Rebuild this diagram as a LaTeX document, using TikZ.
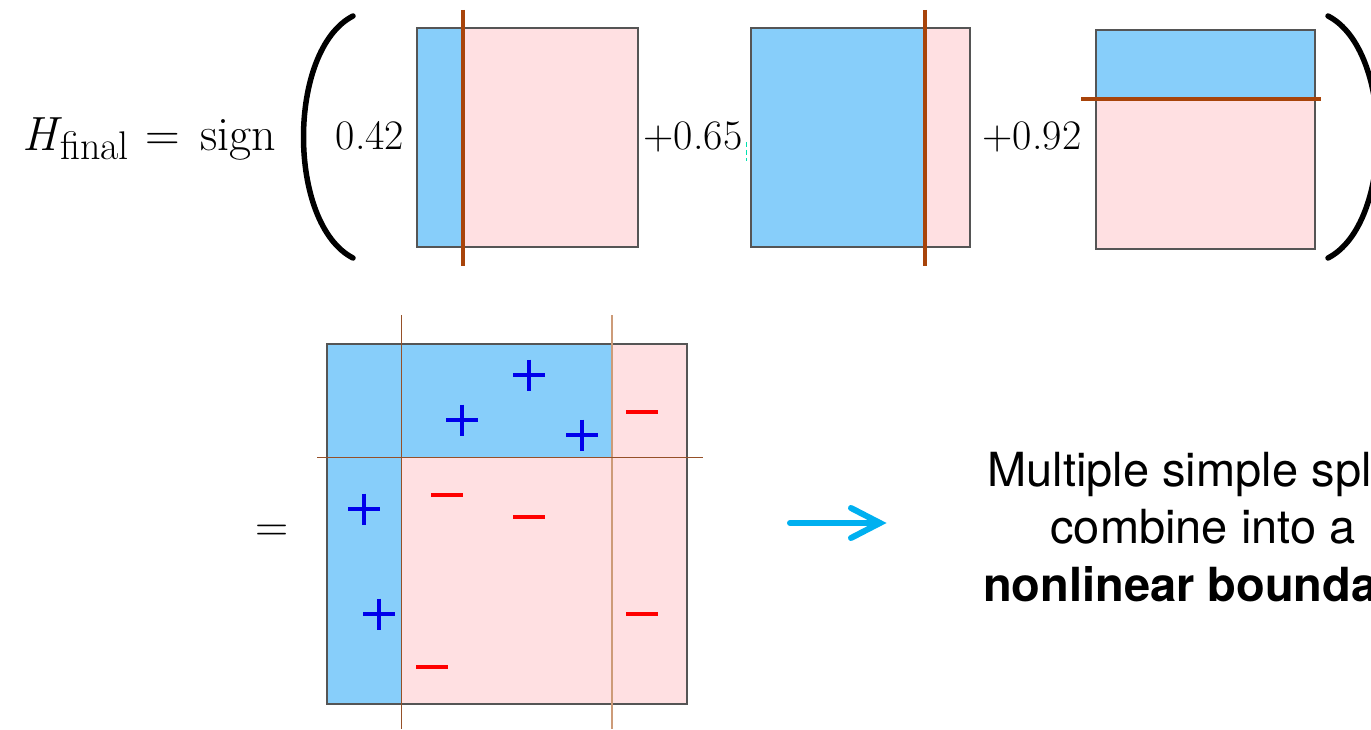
\documentclass[tikz,border=0pt]{standalone}
\usepackage{fontspec}
\newfontfamily\heros{TeX Gyre Heros}
\usetikzlibrary{calc}
\definecolor{regblue}{RGB}{135,206,250}
\definecolor{regpink}{RGB}{255,224,226}
\definecolor{bordergray}{RGB}{85,85,85}
\definecolor{splitbrown}{RGB}{168,68,10}
\definecolor{thinbrown}{RGB}{150,80,40}
\definecolor{lightbrown}{RGB}{205,155,120}
\definecolor{plusblue}{RGB}{0,0,235}
\definecolor{minusred}{RGB}{255,0,0}
\definecolor{arrowcyan}{RGB}{0,176,240}
\definecolor{artifactcyan}{RGB}{0,225,175}
\tikzset{
  boxborder/.style={draw=bordergray,line width=1.1pt},
  splitline/.style={draw=splitbrown,line width=4.5pt},
  thinsplit/.style={draw=thinbrown,line width=1pt},
  lightsplit/.style={draw=lightbrown,line width=1.3pt},
  paren/.style={line width=5.5pt,line cap=round},
  mathlabel/.style={font=\fontsize{48}{56}\selectfont, inner sep=0pt},
  eqsign/.style={font=\fontsize{46}{54}\selectfont, inner sep=0pt},
  coeff/.style={font=\fontsize{42}{50}\selectfont, inner sep=0pt, anchor=base},
  caption/.style={font=\heros\fontsize{47}{56}\selectfont, inner sep=0pt, anchor=base},
  arrowline/.style={draw=arrowcyan,line width=6pt,line cap=round},
  artifact/.style={draw=artifactcyan,line width=1pt,dash pattern=on 5pt off 3pt},
  pluspic/.pic={\draw[plusblue,line width=3.3pt] (-16,0)--(16,0) (0,-15.5)--(0,15.5);},
  minuspic/.pic={\draw[minusred,line width=3.6pt] (-16,0)--(16,0);}
}
\begin{document}
\begin{tikzpicture}[x=1pt,y=-1pt]
\useasboundingbox (0,0) rectangle (1371,730);
\clip (0,0) rectangle (1371,730);
\fill[white] (0,0) rectangle (1371,730);

% top formula
\node[mathlabel, anchor=base west] (hfinal) at (22,151)
  {{\itshape H}\hspace{3pt}\raisebox{-9pt}{\fontsize{40}{46}\selectfont final}\hspace{17pt}=\hspace{20pt}sign};
\draw[paren] (353,16) .. controls (287,50) and (287,224) .. (353,258);
\draw[paren] (1328,16) .. controls (1394,50) and (1394,224) .. (1328,258);

\node[coeff] (c1) at (370,150) {0.42};
\node[coeff] (c2) at (693,150) {+0.65};
\node[coeff] (c3) at (1032,150) {+0.92};
\draw[artifact] (746,142) -- (746,161);

% stump 1
\fill[regblue] (417,28) rectangle (463,247);
\fill[regpink] (463,28) rectangle (638,247);
\draw[boxborder] (417,28) rectangle (638,247);
\draw[splitline] (463,10) -- (463,266);

% stump 2
\fill[regblue] (751,28) rectangle (925,247);
\fill[regpink] (925,28) rectangle (970,247);
\draw[boxborder] (751,28) rectangle (970,247);
\draw[splitline] (925,10) -- (925,266);

% stump 3
\fill[regblue] (1096,30) rectangle (1315,99);
\fill[regpink] (1096,99) rectangle (1315,249);
\draw[boxborder] (1096,30) rectangle (1315,249);
\draw[splitline] (1081,99) -- (1321,99);

% combined classifier
\node[eqsign, anchor=base] (eq) at (272,541) {=};
\fill[regblue] (327,344) rectangle (401,704);
\fill[regblue] (401,344) rectangle (612,457);
\fill[regpink] (401,457) rectangle (612,704);
\fill[regpink] (612,344) rectangle (687,704);
\draw[boxborder] (327,344) rectangle (687,704);
\draw[thinsplit] (401,315) -- (401,729);
\draw[lightsplit] (612,315) -- (612,729);
\draw[thinsplit] (317,457) -- (703,457);

\pic (p1) at (529,375) {pluspic};
\pic (p2) at (462,420) {pluspic};
\pic (p3) at (582,435) {pluspic};
\pic (p4) at (364,509) {pluspic};
\pic (p5) at (379,614) {pluspic};

\pic (m1) at (642,412) {minuspic};
\pic (m2) at (447,495) {minuspic};
\pic (m3) at (529,517) {minuspic};
\pic (m4) at (642,614) {minuspic};
\pic (m5) at (432,667) {minuspic};

% arrow
\coordinate (arrS) at (790,523);
\coordinate (arrE) at (880,523);
\draw[arrowline] (arrS) -- (arrE);
\draw[arrowline, line join=miter] ($(arrE)+(-29,-15)$) -- (arrE) -- ($(arrE)+(-29,15)$);

% caption
\node[caption] (t1) at (1203,486) {Multiple simple splits};
\node[caption] (t2) at (1203,543) {combine into a};
\node[caption] (t3) at (1203,601) {\bfseries nonlinear boundary};
\end{tikzpicture}
\end{document}
